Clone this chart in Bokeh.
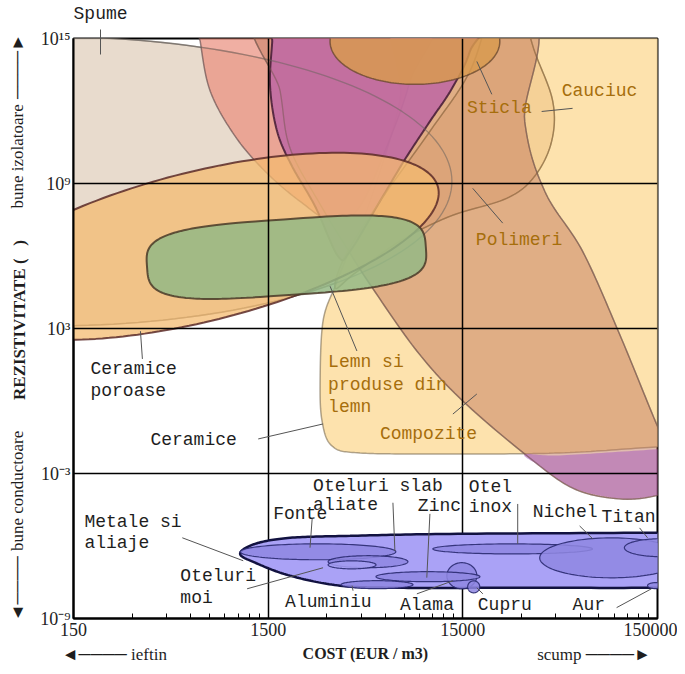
import numpy as np
from bokeh.plotting import figure
from bokeh.models import FixedTicker, LogAxis
from bokeh.core.properties import value
from bokeh.embed import file_html
from bokeh.resources import INLINE

# ---------------- axes ----------------
X_TICKS = [150, 1500, 15000, 150000]
X_TICK_LABELS = ["150", "1500", "15000", "150000"]
X_MINOR = [m * t for t in (150, 1500, 15000) for m in range(2, 10)]
Y_TICKS = [1e-9, 1e-3, 1e3, 1e9, 1e15]
Y_TICK_LABELS = ["10\u207b\u2079", "10\u207b\u00b3", "10\u00b3", "10\u2079", "10\u00b9\u2075"]
X_GRID = [1500, 15000]
Y_GRID = [1e-3, 1e3, 1e9]
X_TITLE = "COST (EUR / m3)"
Y_TITLE = "\u00a0\u00a0\u00a0\u00a0REZISTIVITATE (\u00a0\u00a0\u00a0)"

# outer captions (placed along the axes)
SIDE_Y = [10 ** 13.84, 10 ** 10.12, 10 ** -3.72, 10 ** -7.77]
SIDE_Y_TEXT = ["\u2500\u2500\u2500\u2500\u25ba", "bune izolatoare", "bune conductoare", "\u25c4\u2500\u2500\u2500\u2500"]
SIDE_X = [10 ** 2.386, 10 ** 4.850]
SIDE_X_TEXT = ["\u25c4\u2500\u2500\u2500\u2500 ieftin", "scump \u2500\u2500\u2500\u2500\u25ba"]
TOP_X = [10 ** 2.315]
TOP_X_TEXT = ["Spume"]

# ------------- envelopes (log10 cost, log10 resistivity) -------------
ELL_NAMES = ["Spume", "Ceramice poroase", "Sticla", "Lemn"]
ELL_LOGC = [2.06, 2.83, 3.93, 3.27]
ELL_LOGR = [9.09, 6.40, 14.88, 5.95]
ELL_A = [2.06, 1.256, 0.436, 0.718]
ELL_B = [0.744, 0.385, 0.221, 0.195]
ELL_TILT = [0, 14, 0, 4]
ELL_POW = [2, 2, 2, 3.5]

CERAMICE_LOGC = [3.520, 3.458, 3.443, 3.453, 3.504, 3.648, 4.109, 4.673, 5.171, 5.45, 5.70, 5.75, 5.75, 3.955, 3.853, 3.699, 3.571]
CERAMICE_LOGR = [4.75, 3.31, 0.83, -0.83, -1.86, -2.15, -2.19, -2.15, -1.90, -1.78, -1.60, 5.0, 17.36, 17.36, 12.40, 8.26, 5.79]

ROZ_LOGC = [2.802, 2.827, 2.879, 3.007, 3.161, 3.340, 3.520, 3.648, 3.776, 3.904, 3.981]
ROZ_LOGR = [16.53, 14.88, 12.81, 10.95, 9.50, 8.26, 7.36, 8.06, 10.33, 13.22, 16.53]

CAUCIUC_LOGC = [4.458, 4.545, 4.638, 4.632, 4.545, 4.402, 4.109, 3.853, 3.622, 3.520, 3.571, 3.750, 4.007, 4.212, 4.340]
CAUCIUC_LOGR = [16.53, 14.46, 12.40, 10.74, 9.30, 8.39, 7.64, 6.61, 5.29, 4.67, 5.99, 8.26, 11.16, 13.64, 16.53]

COMPOZITE_LOGC = [3.161, 3.238, 3.289, 3.443, 3.581, 3.699, 3.940, 4.176, 4.520, 4.750, 4.981, 5.161, 5.289, 5.299, 5.238, 5.171, 4.981, 4.791, 4.597, 4.494, 4.468]
COMPOZITE_LOGR = [16.53, 12.81, 10.45, 8.14, 6.32, 4.83, 2.07, 0.0, -2.36, -3.64, -4.05, -3.93, -3.51, -2.89, -2.07, -0.95, 2.77, 6.20, 8.68, 11.57, 16.53]

CFRP_LOGC = [4.494, 4.673, 5.171, 5.443, 5.417, 5.289, 5.161, 4.981, 4.750, 4.571]
CFRP_LOGR = [-2.21, -2.25, -2.00, -1.88, -2.89, -3.56, -3.92, -4.03, -3.62, -2.69]

POLIMERI_LOGC = [3.212, 3.197, 3.186, 3.222, 3.299, 3.417, 3.535, 3.597, 3.750, 3.879, 4.007, 4.120, 4.212, 4.263]
POLIMERI_LOGR = [16.53, 14.88, 13.02, 11.16, 9.71, 8.06, 5.99, 6.20, 8.26, 10.0, 11.57, 12.93, 14.46, 16.53]

METALE_LOGC = [3.032, 3.109, 3.289, 3.597, 4.109, 5.171, 5.392, 5.60, 5.66, 5.60, 5.392, 5.171, 4.366, 3.853, 3.545, 3.289, 3.109]
METALE_LOGR = [-6.32, -5.91, -5.66, -5.58, -5.50, -5.45, -5.45, -5.45, -6.60, -7.69, -7.69, -7.73, -7.73, -7.73, -7.64, -7.23, -6.69]

ALLOY_NAMES = ["Fonte", "Oteluri slab aliate", "Oteluri moi", "Aluminiu", "Alama", "Zinc", "Cupru", "Otel inox", "Nichel", "Titan", "Aur"]
ALLOY_LOGC = [3.432, 3.689, 3.607, 3.735, 4.171, 3.997, 4.232, 4.432, 4.940, 5.196, 5.166]
ALLOY_LOGR = [-6.24, -6.65, -6.78, -7.60, -7.23, -7.27, -7.69, -6.12, -6.49, -6.07, -7.64]
ALLOY_DC = [0.400, 0.205, 0.123, 0.185, 0.077, 0.267, 0.031, 0.410, 0.369, 0.190, 0.041]
ALLOY_DR = [0.33, 0.248, 0.165, 0.165, 0.54, 0.207, 0.248, 0.207, 0.826, 0.372, 0.124]

# ------------- labels -------------
GOLD_TEXT = ["Sticla", "Cauciuc", "Polimeri", "Lemn si", "produse din", "lemn", "Compozite"]
GOLD_LOGC = [4.197, 4.684, 4.243, 3.484, 3.484, 3.484, 3.750]
GOLD_LOGR = [12.11, 12.81, 6.65, 1.61, 0.66, -0.25, -1.36]

BLACK_TEXT = ["Ceramice", "poroase", "Ceramice", "Oteluri slab", "aliate", "Otel", "inox", "Zinc", "Fonte",
              "Nichel", "Titan", "Metale si", "aliaje", "Oteluri", "moi", "Aluminiu", "Alama", "Cupru", "Aur"]
BLACK_LOGC = [2.263, 2.263, 2.571, 3.407, 3.407, 4.207, 4.207, 3.945, 3.202,
              4.535, 4.889, 2.232, 2.232, 2.725, 2.725, 3.263, 3.853, 4.253, 4.740]
BLACK_LOGR = [1.32, 0.41, -1.61, -3.51, -4.30, -3.55, -4.38, -4.34, -4.67,
              -4.59, -4.79, -5.00, -5.87, -7.23, -8.14, -8.31, -8.43, -8.43, -8.43]

LEAD_C0 = [4.248, 4.581, 4.227, 2.520, 3.494, 3.125, 4.125, 2.735, 3.068, 3.612, 3.940, 4.279, 4.966, 5.084, 4.776, 4.458, 4.007, 3.817, 3.402]
LEAD_R0 = [14.05, 11.98, 8.80, 2.89, 4.75, -1.57, -0.54, -5.66, -7.77, -7.85, -7.98, -7.98, -8.55, -5.25, -5.17, -4.26, -4.67, -4.21, -4.88]
LEAD_C1 = [4.325, 4.740, 4.381, 2.530, 3.632, 3.458, 4.248, 3.048, 3.458, 3.607, 4.125, 4.248, 5.145, 5.125, 4.843, 4.458, 3.991, 3.827, 3.391]
LEAD_R1 = [12.69, 12.11, 7.36, 1.74, 2.07, -0.95, 0.29, -6.61, -6.90, -7.64, -7.44, -7.73, -7.77, -5.66, -5.70, -5.91, -7.31, -6.20, -6.07]

# ------------- figure geometry -------------
ML, MR, MT, MB = 73, 20, 37, 56
FW, FH = 584, 581
W, H = ML + FW + MR, MT + FH + MB
X_DEC = np.log10(150000) - np.log10(150)
Y_DEC = 24.0
K = (FW / X_DEC) / (FH / Y_DEC)


def ellipse(lc, lr, a, b, tilt, pw, n=200):
    t = np.linspace(0, 2 * np.pi, n, endpoint=False)
    c, s = np.cos(t), np.sin(t)
    ex = a * np.sign(c) * np.abs(c) ** (2.0 / pw)
    ey = b * np.sign(s) * np.abs(s) ** (2.0 / pw)
    th = np.radians(tilt)
    x = lc + ex * np.cos(th) - ey * np.sin(th)
    y = lr / K + ex * np.sin(th) + ey * np.cos(th)
    return 10 ** x, 10 ** (y * K)


def smooth(lcs, lrs, n=20):
    P = np.column_stack([np.array(lcs, float), np.array(lrs, float) / K])
    m = len(P)
    out = []
    for i in range(m):
        p0, p1, p2, p3 = P[i - 1], P[i], P[(i + 1) % m], P[(i + 2) % m]
        for t in np.linspace(0, 1, n, endpoint=False):
            t2, t3 = t * t, t * t * t
            out.append(0.5 * (2 * p1 + (-p0 + p2) * t + (2 * p0 - 5 * p1 + 4 * p2 - p3) * t2
                              + (-p0 + 3 * p1 - 3 * p2 + p3) * t3))
    out = np.array(out)
    return 10 ** out[:, 0], 10 ** (out[:, 1] * K)


p = figure(width=W, height=H, x_axis_type="log", y_axis_type="log",
           x_range=(150, 150000), y_range=(1e-9, 1e15),
           output_backend="svg", toolbar_location=None,
           min_border_left=ML, min_border_right=MR, min_border_top=MT, min_border_bottom=MB,
           background_fill_color="white", border_fill_color="white",
           outline_line_color="black", outline_line_width=2)
p.xgrid.visible = False
p.ygrid.visible = False


def patch(xy, fill, falpha, line, lalpha, lw):
    p.patch(xy[0], xy[1], fill_color=fill, fill_alpha=falpha, line_color=line,
            line_alpha=lalpha, line_width=lw)


def outline(xy, line, lalpha, lw):
    p.line(np.append(xy[0], xy[0][0]), np.append(xy[1], xy[1][0]),
           line_color=line, line_alpha=lalpha, line_width=lw)


foam = ellipse(ELL_LOGC[0], ELL_LOGR[0], ELL_A[0], ELL_B[0], ELL_TILT[0], ELL_POW[0])
cer = smooth(CERAMICE_LOGC, CERAMICE_LOGR)
roz = smooth(ROZ_LOGC, ROZ_LOGR)
cau = smooth(CAUCIUC_LOGC, CAUCIUC_LOGR)
comp = smooth(COMPOZITE_LOGC, COMPOZITE_LOGR)
cfrp = smooth(CFRP_LOGC, CFRP_LOGR)
pol = smooth(POLIMERI_LOGC, POLIMERI_LOGR)
por = ellipse(ELL_LOGC[1], ELL_LOGR[1], ELL_A[1], ELL_B[1], ELL_TILT[1], ELL_POW[1])
gla = ellipse(ELL_LOGC[2], ELL_LOGR[2], ELL_A[2], ELL_B[2], ELL_TILT[2], ELL_POW[2])
wood = ellipse(ELL_LOGC[3], ELL_LOGR[3], ELL_A[3], ELL_B[3], ELL_TILT[3], ELL_POW[3])

patch(foam, "#e6d7c8", 0.9, "#6e6660", 0.7, 1.5)
patch(cer, "#fddfa6", 0.92, "#7a6a50", 0.6, 1.5)
patch(roz, "#ea9080", 0.72, "#6a5050", 0.7, 1.5)
patch(cau, "#e6a866", 0.3, "#8a6a40", 0.6, 1.5)
patch(comp, "#c47a5e", 0.5, "#7a5a50", 0.6, 1.5)
p.patch(cfrp[0], cfrp[1], fill_color="#aa5fbe", fill_alpha=0.55, line_color=None)
patch(pol, "#c06aa2", 0.9, "#4a2038", 0.9, 2)

# boundaries seen through the overlapping envelopes
outline(foam, "#6e6660", 0.55, 1.3)
outline(cau, "#8a6a40", 0.5, 1.3)
outline(comp, "#7a5a50", 0.5, 1.3)

patch(por, "#f4bb70", 0.75, "#5a2a28", 0.85, 2)
patch(gla, "#d89a50", 0.85, "#6a4a30", 0.8, 1.5)
patch(wood, "#94b985", 0.85, "#4a3a28", 0.85, 2)

# grid lines drawn over the non-metal envelopes
p.vspan(x=X_GRID, line_color="black", line_width=1.5)
p.hspan(y=Y_GRID, line_color="black", line_width=1.5)

# metals
met = smooth(METALE_LOGC, METALE_LOGR)
patch(met, "#aaa2f6", 1.0, "#121240", 1.0, 2.5)
t = np.linspace(0, 2 * np.pi, 120)
for i in range(len(ALLOY_NAMES)):
    xs = 10 ** (ALLOY_LOGC[i] + ALLOY_DC[i] * np.cos(t))
    ys = 10 ** (ALLOY_LOGR[i] + ALLOY_DR[i] * np.sin(t))
    fc = "#a59df2" if ALLOY_NAMES[i] == "Oteluri moi" else "#8f87e2"
    p.patch(xs, ys, fill_color=fc, fill_alpha=0.85, line_color="#2a2a70", line_alpha=0.9, line_width=1.2)

# leaders
p.segment(x0=[10 ** v for v in LEAD_C0], y0=[10 ** v for v in LEAD_R0],
          x1=[10 ** v for v in LEAD_C1], y1=[10 ** v for v in LEAD_R1],
          line_color="#555555", line_width=1)

# labels
MONO = value("Liberation Mono")
p.text(x=[10 ** v for v in GOLD_LOGC], y=[10 ** v for v in GOLD_LOGR], text=GOLD_TEXT,
       text_font=MONO, text_font_size="18px", text_color="#a66e0c",
       text_baseline="middle", text_align="left")
p.text(x=[10 ** v for v in BLACK_LOGC], y=[10 ** v for v in BLACK_LOGR], text=BLACK_TEXT,
       text_font=MONO, text_font_size="18px", text_color="#1e1e1e",
       text_baseline="middle", text_align="left")

# main axes
p.xaxis.ticker = FixedTicker(ticks=X_TICKS, minor_ticks=X_MINOR)
p.xaxis.major_label_overrides = dict(zip(X_TICKS, X_TICK_LABELS))
p.yaxis.ticker = FixedTicker(ticks=Y_TICKS)
p.yaxis.major_label_overrides = dict(zip(Y_TICKS, Y_TICK_LABELS))
for ax in (p.xaxis[0], p.yaxis[0]):
    ax.axis_line_color = "black"
    ax.axis_line_width = 2
    ax.major_label_text_font = "Liberation Serif"
    ax.major_label_text_font_size = "18px"
    ax.major_label_text_color = "#222222"
    ax.axis_label_text_font = "Liberation Serif"
    ax.axis_label_text_font_style = "bold"
    ax.axis_label_text_font_size = "16px"
    ax.axis_label_text_color = "#1e1e1e"
p.yaxis.axis_label_text_font_size = "17px"
p.xaxis.axis_label = X_TITLE
p.yaxis.axis_label = Y_TITLE
p.xaxis.axis_label_standoff = 6
p.yaxis.axis_label_standoff = 8
p.xaxis.major_tick_in = 6
p.xaxis.major_tick_out = 0
p.xaxis.minor_tick_in = 5
p.xaxis.minor_tick_out = 0
p.xaxis.major_label_standoff = 4
p.yaxis.major_tick_in = 0
p.yaxis.major_tick_out = 0
p.yaxis.minor_tick_in = 0
p.yaxis.minor_tick_out = 0
p.yaxis.major_label_standoff = 3


def caption_axis(ticks, texts, side, font, size, standoff, orientation="horizontal",
                 tick_in=0, tick_out=0):
    ax = LogAxis(ticker=FixedTicker(ticks=ticks), major_label_overrides=dict(zip(ticks, texts)),
                 axis_line_color=None, minor_tick_line_color=None,
                 major_tick_line_color="#555555" if (tick_in or tick_out) else None,
                 major_tick_in=tick_in, major_tick_out=tick_out,
                 major_label_standoff=standoff, major_label_orientation=orientation,
                 major_label_text_font=font, major_label_text_font_size=size,
                 major_label_text_color="#1e1e1e")
    p.add_layout(ax, side)


# caption rows share the row of the axis titles (negative standoff pulls them back)
caption_axis(SIDE_Y, SIDE_Y_TEXT, "left", "Liberation Serif", "17px", -20, "parallel")
caption_axis(SIDE_X, SIDE_X_TEXT, "below", "Liberation Serif", "17px", -20)
caption_axis(TOP_X, TOP_X_TEXT, "above", "Liberation Mono", "18px", 6, tick_in=16, tick_out=9)

open("out.html", "w").write(file_html(p, INLINE))
